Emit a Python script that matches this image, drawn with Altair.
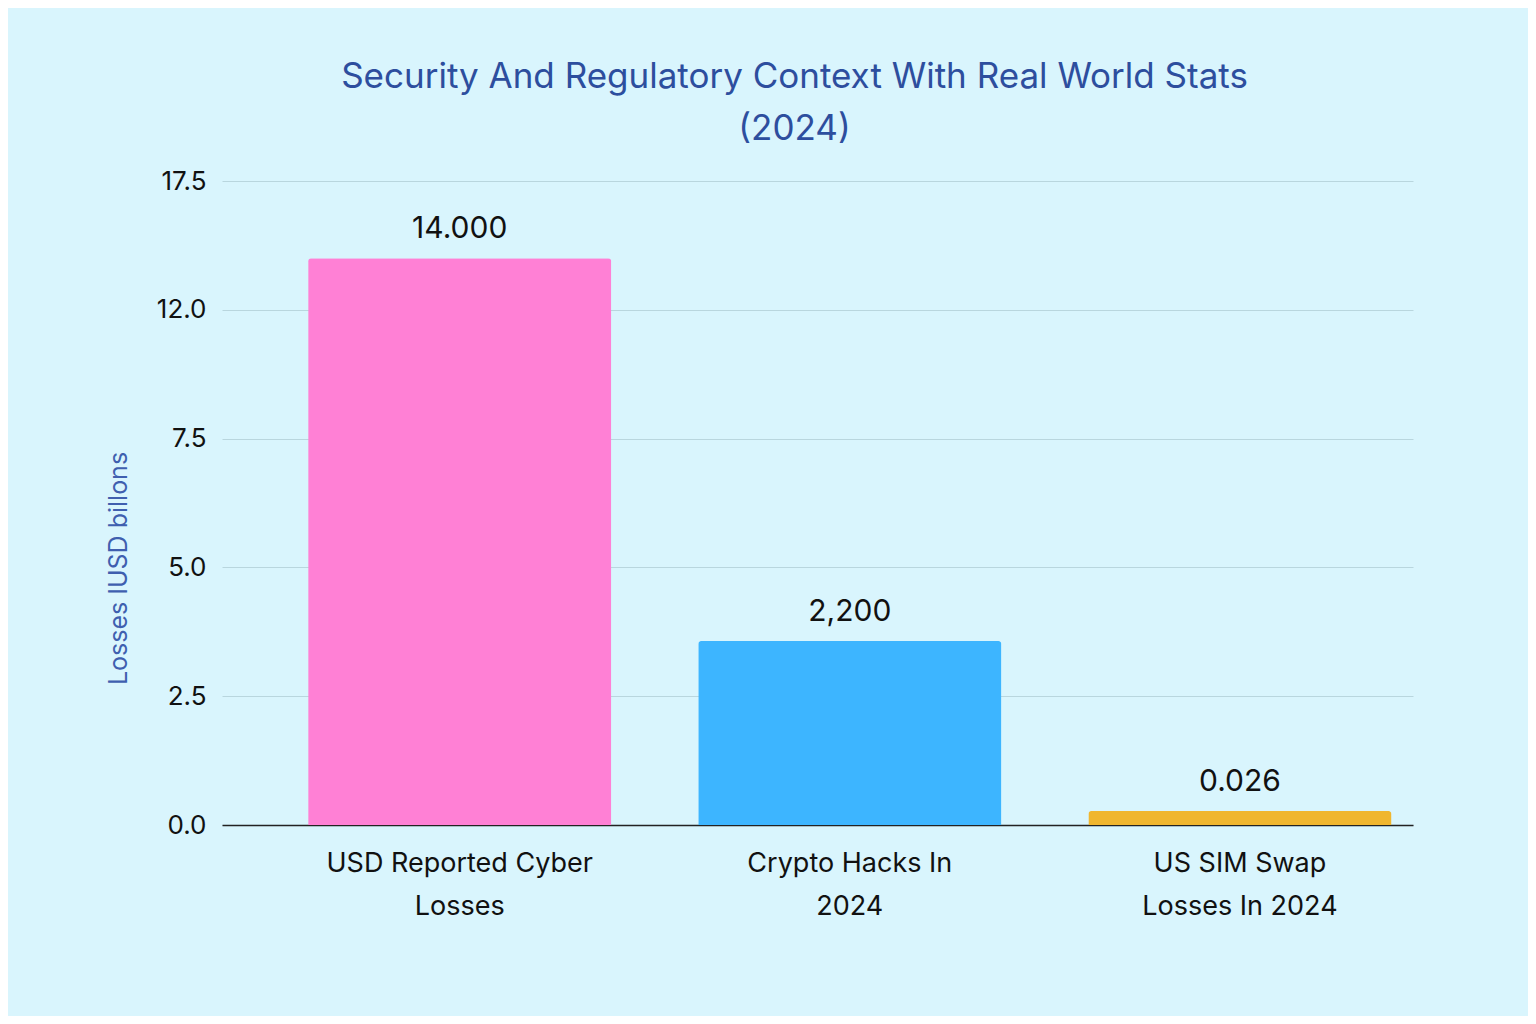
import altair as alt
import pandas as pd

categories = ["USD Reported Cyber\nLosses", "Crypto Hacks In\n2024", "US SIM Swap\nLosses In 2024"]
values = [11.0, 3.57, 0.27]
value_labels = ["14.000", "2,200", "0.026"]
colors = ["#FF80D5", "#3DB5FF", "#F0B62E"]
y_ticks = [0, 2.5, 5, 7.5, 10, 12.5]
y_tick_labels = ["0.0", "2.5", "5.0", "7.5", "12.0", "17.5"]

df = pd.DataFrame({"cat": categories, "val": values, "lab": value_labels, "col": colors})

label_expr = " : ".join(
    [f"datum.value == {v} ? '{l}'" for v, l in zip(y_ticks, y_tick_labels)]
) + " : ''"

FONT = "Inter"

base = alt.Chart(df).encode(
    x=alt.X("cat:N", sort=categories, title=None,
            scale=alt.Scale(paddingInner=0.223, paddingOuter=0.138, align=0.8),
            axis=alt.Axis(labelAngle=0, labelExpr="split(datum.label, '\\n')",
                          labelFontSize=27, labelColor="#111111", labelFont=FONT,
                          labelLineHeight=43, labelPadding=25, ticks=False, labelLimit=0,
                          domainColor="#222222", domainWidth=1.5, labelBaseline="top")),
)

bars = base.mark_bar(cornerRadiusTopLeft=3, cornerRadiusTopRight=3).encode(
    y=alt.Y("val:Q", scale=alt.Scale(domain=[0, 12.5], nice=False),
            title="Losses IUSD billons",
            axis=alt.Axis(values=y_ticks, labelExpr=label_expr, labelFontSize=26,
                          labelColor="#111111", labelFont=FONT, labelPadding=16,
                          ticks=False, domain=False, gridColor="#B9D6DE", gridWidth=1,
                          titleFont=FONT, titleFontSize=25, titleFontWeight="normal",
                          titleColor="#3F5FAF", titleX=-104, titleY=387,
                          titleAngle=-90, titleAlign="center", titleBaseline="middle")),
    color=alt.Color("col:N", scale=None),
)

text = base.mark_text(baseline="bottom", dy=-14, fontSize=30, font=FONT, color="#111111").encode(
    y=alt.Y("val:Q"),
    text="lab:N",
)

chart = (bars + text).properties(
    width=1191, height=644,
    padding={"left": 214, "top": 173, "right": 115, "bottom": 191},
    autosize=alt.AutoSizeParams(type="none"),
    background="#D9F5FD",
    title=alt.TitleParams(
        text=["Security And Regulatory Context With Real World Stats", "(2024)"],
        font=FONT, fontSize=35, fontWeight="normal", color="#2D4E9E",
        lineHeight=52, anchor="middle", offset=21, dx=-23,
    ),
).configure_view(stroke=None)

chart.save("out.html", embed_options={"renderer": "svg", "actions": False})
